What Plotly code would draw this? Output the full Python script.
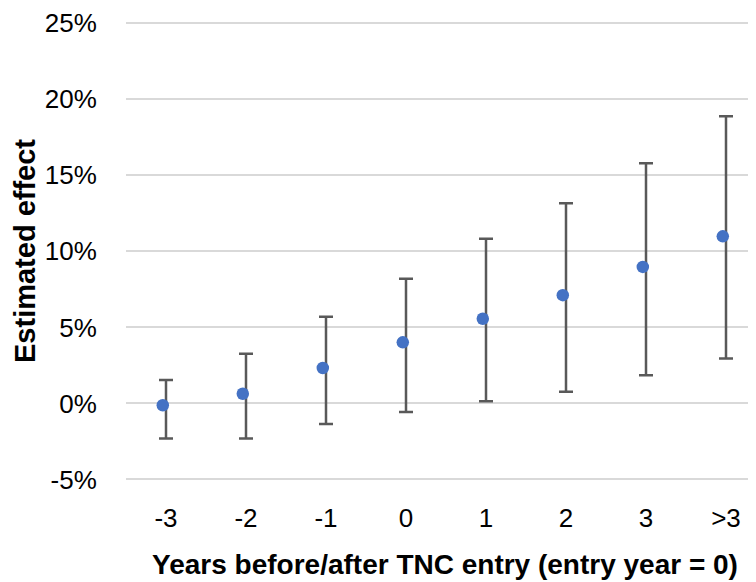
import numpy as np
import plotly.graph_objects as go

categories = ["-3", "-2", "-1", "0", "1", "2", "3", ">3"]
estimate = [-0.12, 0.64, 2.33, 4.02, 5.57, 7.12, 8.98, 10.99]
upper = [1.55, 3.26, 5.7, 8.2, 10.83, 13.17, 15.79, 18.89]
lower = [-2.3, -2.3, -1.35, -0.57, 0.15, 0.77, 1.86, 2.95]
y_ticks = [-5, 0, 5, 10, 15, 20, 25]

x_idx = np.arange(len(categories))
err_plus = [u - e for u, e in zip(upper, estimate)]
err_minus = [e - l for e, l in zip(estimate, lower)]

font_family = "Liberation Sans, Arial, Helvetica, sans-serif"

fig = go.Figure()
fig.add_trace(go.Scatter(
    x=x_idx, y=estimate, mode="markers",
    marker=dict(size=1, color="rgba(0,0,0,0)"),
    error_y=dict(type="data", array=err_plus, arrayminus=err_minus,
                 color="#595959", thickness=2.5, width=7),
    showlegend=False, hoverinfo="skip",
))
fig.add_trace(go.Scatter(
    x=x_idx - 0.04, y=estimate, mode="markers",
    marker=dict(size=12.5, color="#4472C4"),
    showlegend=False,
))

fig.update_layout(
    width=756, height=582,
    margin=dict(l=118, r=0, t=11, b=109),
    paper_bgcolor="white", plot_bgcolor="white",
    font=dict(family=font_family, size=26, color="black"),
)
fig.update_xaxes(
    range=[-0.5, 7.475],
    tickvals=list(x_idx), ticktext=categories,
    showgrid=False, zeroline=False, showline=False,
    ticks="outside", ticklen=14, tickcolor="rgba(0,0,0,0)",
    tickfont=dict(size=26),
    title=dict(text="<b>Years before/after TNC entry (entry year = 0)</b>",
               font=dict(size=28), standoff=22),
)
fig.update_yaxes(
    range=[-5.1, 25.15],
    tickvals=y_ticks, ticktext=[f"{v}%" for v in y_ticks],
    ticklabeloverflow="allow",
    showgrid=True, gridcolor="#d9d9d9", gridwidth=1.5,
    zeroline=False, showline=False,
    ticks="outside", ticklen=23, tickcolor="rgba(0,0,0,0)",
    tickfont=dict(size=26),
    title=dict(text="<b>Estimated effect</b>", font=dict(size=29), standoff=0),
)

fig.write_html("out.html")
